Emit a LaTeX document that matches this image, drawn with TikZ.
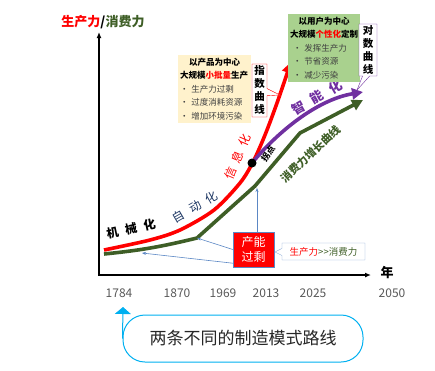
\documentclass[tikz,border=0pt]{standalone}
\usepackage{fontspec}
\setmainfont{Noto Sans CJK SC}
\usetikzlibrary{arrows.meta,shapes.callouts,positioning}
\definecolor{dgreen}{RGB}{62,94,38}
\definecolor{dpurple}{RGB}{112,48,160}
\definecolor{dblue}{RGB}{31,56,100}
\definecolor{lyellow}{RGB}{255,242,204}
\definecolor{lgreen}{RGB}{169,209,142}
\definecolor{lblue}{RGB}{91,135,196}
\definecolor{cyanb}{RGB}{0,176,240}
\definecolor{tgray}{RGB}{89,89,89}

\begin{document}
\begin{tikzpicture}[x=1pt,y=-1pt,
  curve/.style={line width=3.6pt},
  year/.style={text=tgray,font=\fontsize{12}{12}\selectfont},
  stage/.style={font=\fontsize{12}{12}\selectfont},
  infobox/.style={align=left,inner sep=2pt,minimum height=68pt,font=\fontsize{8.5}{13.4}\selectfont,text=black!75},
  vnote/.style={rectangle callout,fill=white,align=center,inner sep=1.5pt,font=\bfseries\fontsize{10.5}{13}\selectfont},
  hint/.style={-{Stealth[length=4pt,width=3pt]},lblue,line width=0.6pt}]
  \useasboundingbox (0,0) rectangle (435,370);

  \coordinate (orig) at (99,275);
  \coordinate (ytop) at (99,32);
  \coordinate (xend) at (371,275);
  \draw[{Latex[length=6pt,width=5pt]}-{Latex[length=6pt,width=5pt]},line width=1.8pt,line join=miter] (ytop) -- (orig) -- (xend);
  \node[font=\bfseries\fontsize{13}{13}\selectfont] (ylabel) at (103,22) {{\color{red}生产力}/{\color{dgreen}消费力}};
  \node[font=\bfseries\fontsize{13}{13}\selectfont] (xlabel) at (387,273) {年};
  \foreach \yr/\xp in {1784/119,1870/177,1969/223,2013/266,2025/313,2050/392}
    \node[year] (y\yr) at (\xp,293) {\yr};

  \draw[curve,dgreen,line join=round,-{Triangle[length=11pt,width=11pt]}] (104,254) to[bend right=4] (197,238) -- (255,186) -- (300,133) -- (363,100);
  \draw[curve,red,-{Triangle[length=11pt,width=11pt]}] plot[smooth] coordinates {(104,250) (150,240) (180,230) (214,210) (240,183) (253,162) (265,135) (277,103) (291,62)};
  \coordinate (turn) at (252,163);
  \draw[curve,dpurple,-{Triangle[length=11pt,width=11pt]}] (turn) .. controls (275,135) and (315,100) .. (363,92);
  \node[circle,fill=black,minimum size=9pt,inner sep=0pt] (turnpt) at (turn) {};

  \node[stage,font=\bfseries\fontsize{12}{12}\selectfont,rotate=12] (mech) at (131,229) {机\hspace{7pt}械\hspace{7pt}化};
  \node[stage,text=dblue,rotate=30] (auto) at (195,207) {自\hspace{7pt}动\hspace{7pt}化};
  \node[stage,text=red,rotate=67] (info) at (238,157) {信\hspace{6pt}息\hspace{6pt}化};
  \node[stage,text=dpurple,font=\bfseries\fontsize{13}{13}\selectfont,rotate=30] (smart) at (317,97) {智\hspace{8pt}能\hspace{8pt}化};
  \node[rotate=55,font=\bfseries\fontsize{8.5}{8.5}\selectfont] (turnlbl) at (268,154) {拐点};
  \node[rotate=43,text=dgreen,font=\bfseries\fontsize{11}{11}\selectfont] (conslbl) at (311,154) {消费力增长曲线};

  \node[infobox,fill=lyellow,text width=69pt] (prodbox) at (214.5,89)
    {\makebox[69pt]{\bfseries\color{black}以产品为中心}\\
     {\bfseries\color{black}大规模{\color{red}小批量}生产}\\
     • 生产力过剩\\ • 过度消耗资源\\ • 增加环境污染};
  \node[infobox,fill=lgreen,text width=68pt] (userbox) at (324,48)
    {\makebox[68pt]{\bfseries\color{black}以用户为中心}\\
     {\bfseries\color{black}大规模{\color{red}个性化}定制}\\
     \hspace*{3pt}• 发挥生产力\\ \hspace*{3pt}• 节省资源\\ \hspace*{3pt}• 减少污染};

  \coordinate (exptip) at (280,95);
  \node[vnote,draw=red,callout absolute pointer={(exptip)},minimum width=15pt,minimum height=53pt] (expnote) at (259.5,90.5) {指\\数\\曲\\线};
  \coordinate (logtip) at (357,90);
  \node[vnote,draw=dpurple,callout absolute pointer={(logtip)},minimum width=18pt,minimum height=52pt] (lognote) at (368,50) {对\\数\\曲\\线};

  \node[fill=red,draw=lblue,text=white,align=center,minimum width=41pt,minimum height=35pt,inner sep=1pt,font=\fontsize{12}{15}\selectfont] (glut) at (253.5,249.5) {产能\\过剩};
  \coordinate (ratiotip) at (275,252);
  \node[rectangle callout,draw=lblue!70,fill=white,callout absolute pointer={(ratiotip)},minimum width=83pt,minimum height=17pt,inner sep=1pt,font=\fontsize{9.5}{9.5}\selectfont] (ratio) at (323.5,251.5) {{\color{red}生产力}{\color{dgreen}>\kern0pt>消费力}};

  \coordinate (g1) at (142,253);
  \coordinate (g2) at (197,238);
  \coordinate (g3) at (257,188);
  \path[hint] (glut.north -| g3) edge (g3)
              (glut.west) edge (g2)
              ([yshift=4pt]glut.south west) edge (g1);

  \node[draw=cyanb,line width=1pt,rounded corners=22pt,minimum width=240pt,minimum height=47pt,font=\fontsize{17}{17}\selectfont,text=black!85] (route) at (243,338.5) {两条不同的制造模式路线};
  \coordinate (routetip) at (123,307);
  \draw[cyanb,line width=1pt,-{Triangle[length=7pt,width=16pt]}] (route.west) -- (routetip);
\end{tikzpicture}
\end{document}
